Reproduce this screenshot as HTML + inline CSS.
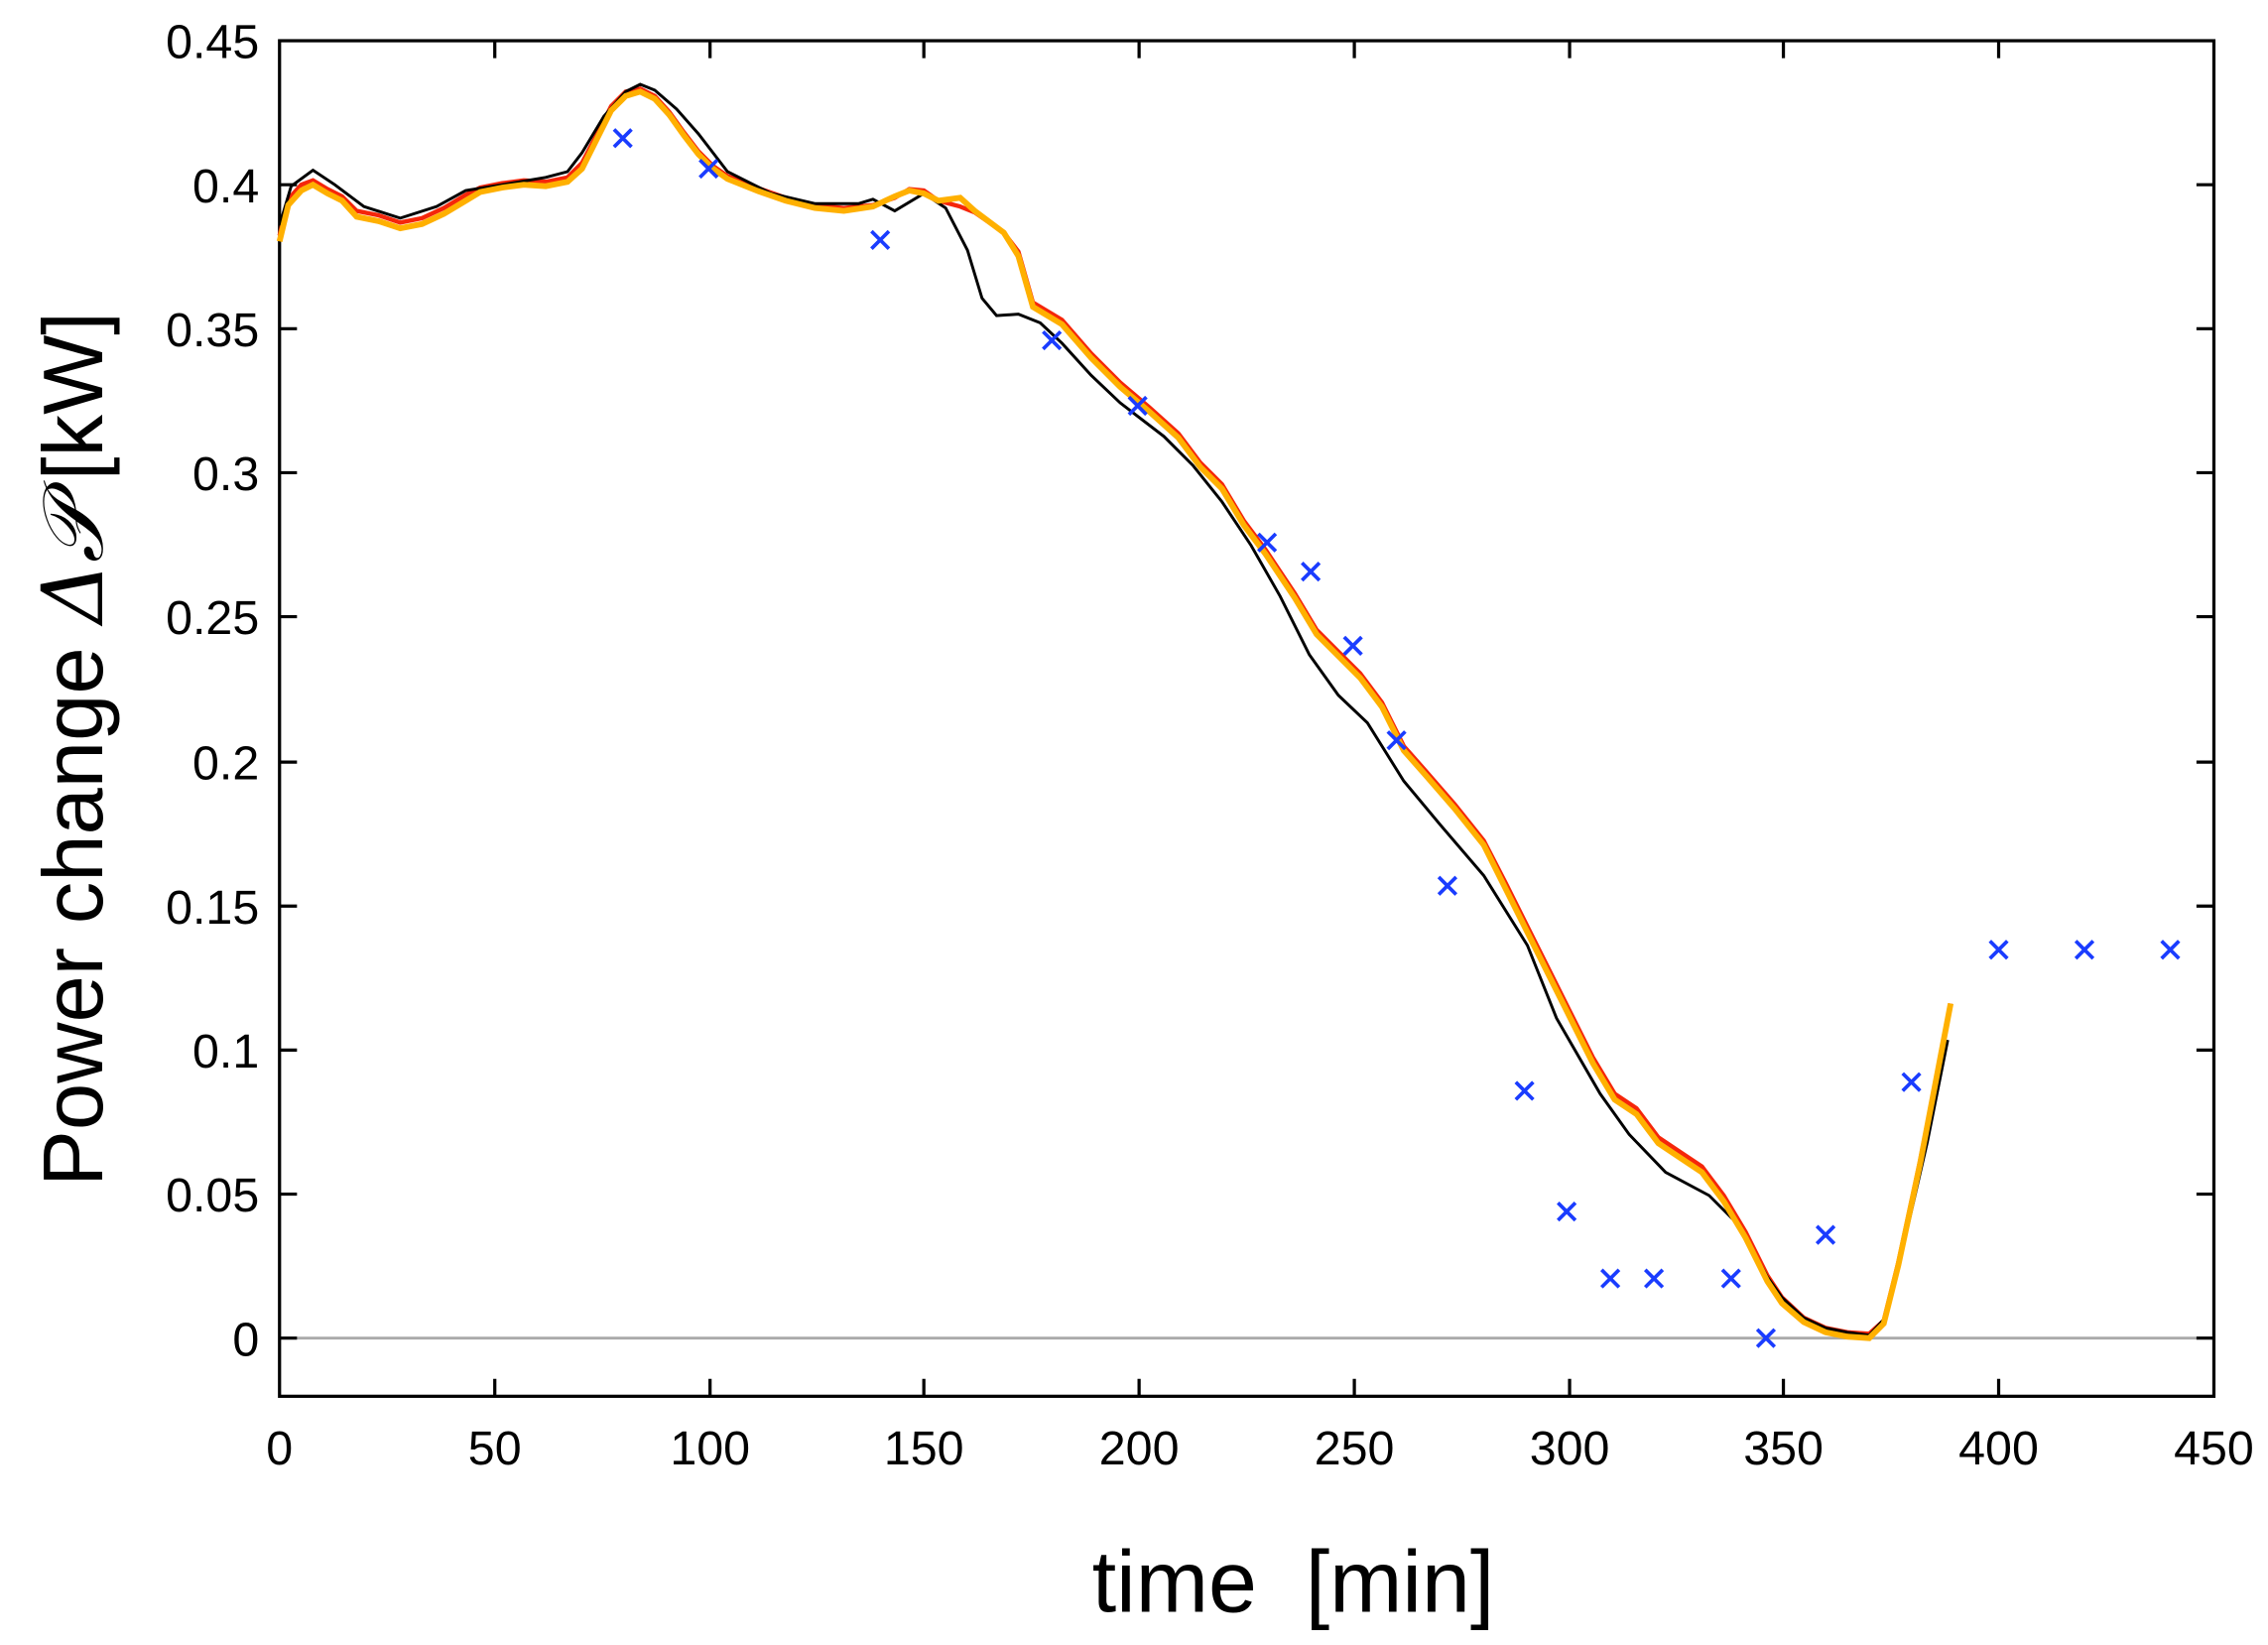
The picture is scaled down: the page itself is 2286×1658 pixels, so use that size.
<!DOCTYPE html>
<html><head><meta charset="utf-8"><style>html,body{margin:0;padding:0;background:#fff}svg{display:block}</style></head><body>
<svg width="2286" height="1658" viewBox="0 0 1559 1131" xmlns="http://www.w3.org/2000/svg" font-family="Liberation Sans, sans-serif">
<rect width="1559" height="1131" fill="#fff"/>
<line x1="192" y1="920" x2="1522" y2="920" stroke="#aaa" stroke-width="2"/>
<g stroke="#000" stroke-width="2.2">
<rect x="192" y="28" width="1330" height="932" fill="none"/>
<path d="M340,960v-12M488,960v-12M635,960v-12M783,960v-12M931,960v-12M1079,960v-12M1226,960v-12M1374,960v-12
M340,28v12M488,28v12M635,28v12M783,28v12M931,28v12M1079,28v12M1226,28v12M1374,28v12
M192,920h12M192,821h12M192,722h12M192,623h12M192,524h12M192,424h12M192,325h12M192,226h12M192,127h12
M1522,920h-12M1522,821h-12M1522,722h-12M1522,623h-12M1522,524h-12M1522,424h-12M1522,325h-12M1522,226h-12M1522,127h-12"/>
</g>
<g font-size="33" text-anchor="end">
<text x="178" y="932">0</text><text x="178" y="833">0.05</text><text x="178" y="734">0.1</text><text x="178" y="635">0.15</text><text x="178" y="536">0.2</text><text x="178" y="436">0.25</text><text x="178" y="337">0.3</text><text x="178" y="238">0.35</text><text x="178" y="139">0.4</text><text x="178" y="40">0.45</text>
</g>
<g font-size="33" text-anchor="middle">
<text x="192" y="1007">0</text><text x="340" y="1007">50</text><text x="488" y="1007">100</text><text x="635" y="1007">150</text><text x="783" y="1007">200</text><text x="931" y="1007">250</text><text x="1079" y="1007">300</text><text x="1226" y="1007">350</text><text x="1374" y="1007">400</text><text x="1522" y="1007">450</text>
</g>
<text x="889" y="1108" font-size="60" text-anchor="middle" xml:space="preserve">time  [min]</text>
<text transform="translate(70,515) rotate(-90)" font-size="58" text-anchor="middle" xml:space="preserve">Power change <tspan font-family="DejaVu Serif, serif" font-style="italic">Δ𝒫</tspan><tspan dx="15">[kW]</tspan></text>
<path fill="none" stroke="#f5260a" stroke-width="3" d="M192,162 198,137 207,127 215,124 225,130 235,135 245,145 260,148 275,153 290,150 305,143 320,134 330,129 345,126 360,124 375,125 390,122 400,112 410,93 420,73 430,63 440,61 450,66 460,77 470,91 480,104 490,114 500,121 520,129 540,136 560,141 580,143 600,141 615,136 625,130 635,131 645,138 660,142 670,146 690,160 700,173 710,208 730,220 750,243 770,263 790,280 810,298 825,318 840,333 855,358 870,378 890,408 905,433 920,448 935,463 950,483 965,513 980,530 1000,553 1020,578 1035,607 1050,637 1065,667 1080,697 1095,727 1110,752 1125,762 1140,782 1155,792 1170,802 1185,822 1200,847 1215,877 1225,892 1240,906 1255,913 1270,916 1285,917 1295,908 1305,868 1320,798 1341,690"/>
<path fill="none" stroke="#000" stroke-width="2" d="M192,155 200,128 215,117 230,127 250,142 275,150 300,142 320,131 345,127 375,122 390,118 400,105 415,80 430,63 440,58 450,62 465,75 480,92 500,118 530,133 560,140 590,140 600,137 615,145 635,133 650,143 665,172 675,205 685,217 700,216 715,222 730,236 750,258 770,277 800,300 820,320 840,345 860,375 880,410 900,450 920,478 940,497 965,537 990,567 1020,602 1050,650 1070,700 1100,752 1120,780 1145,806 1175,822 1195,842 1215,878 1225,892 1240,906 1255,913 1270,916 1285,918 1297,905 1310,850 1325,785 1339,715"/>
<path fill="none" stroke="#ffb000" stroke-width="4" d="M192,166 198,141 207,131 215,127 225,133 235,138 245,149 260,152 275,157 290,154 305,147 320,138 330,132 345,129 360,127 375,128 390,125 400,116 410,96 420,76 430,66 440,63 450,68 460,79 470,93 480,106 490,116 500,123 520,131 540,138 560,143 580,145 600,142 615,135 625,131 635,133 645,138 660,136 670,145 690,160 700,176 710,211 730,223 750,246 770,266 790,283 810,301 825,321 840,336 855,361 870,381 890,411 905,436 920,451 935,466 950,486 965,516 980,533 1000,556 1020,581 1035,611 1050,641 1065,671 1080,701 1095,731 1110,756 1125,766 1140,786 1155,796 1170,806 1185,826 1200,851 1215,881 1225,896 1240,909 1255,916 1270,919 1285,920 1295,910 1305,870 1320,800 1341,690"/>
<g stroke="#1a3cff" stroke-width="2.5">
<path d="M428,95m-6,-6l12,12m0,-12l-12,12M487,116m-6,-6l12,12m0,-12l-12,12M605,165m-6,-6l12,12m0,-12l-12,12M723,234m-6,-6l12,12m0,-12l-12,12M782,279m-6,-6l12,12m0,-12l-12,12M871,373m-6,-6l12,12m0,-12l-12,12M901,393m-6,-6l12,12m0,-12l-12,12M930,444m-6,-6l12,12m0,-12l-12,12M960,509m-6,-6l12,12m0,-12l-12,12M995,609m-6,-6l12,12m0,-12l-12,12M1048,750m-6,-6l12,12m0,-12l-12,12M1077,833m-6,-6l12,12m0,-12l-12,12M1107,879m-6,-6l12,12m0,-12l-12,12M1137,879m-6,-6l12,12m0,-12l-12,12M1190,879m-6,-6l12,12m0,-12l-12,12M1214,920m-6,-6l12,12m0,-12l-12,12M1255,849m-6,-6l12,12m0,-12l-12,12M1314,744m-6,-6l12,12m0,-12l-12,12M1374,653m-6,-6l12,12m0,-12l-12,12M1433,653m-6,-6l12,12m0,-12l-12,12M1492,653m-6,-6l12,12m0,-12l-12,12"/>
</g>
</svg>
</body></html>
